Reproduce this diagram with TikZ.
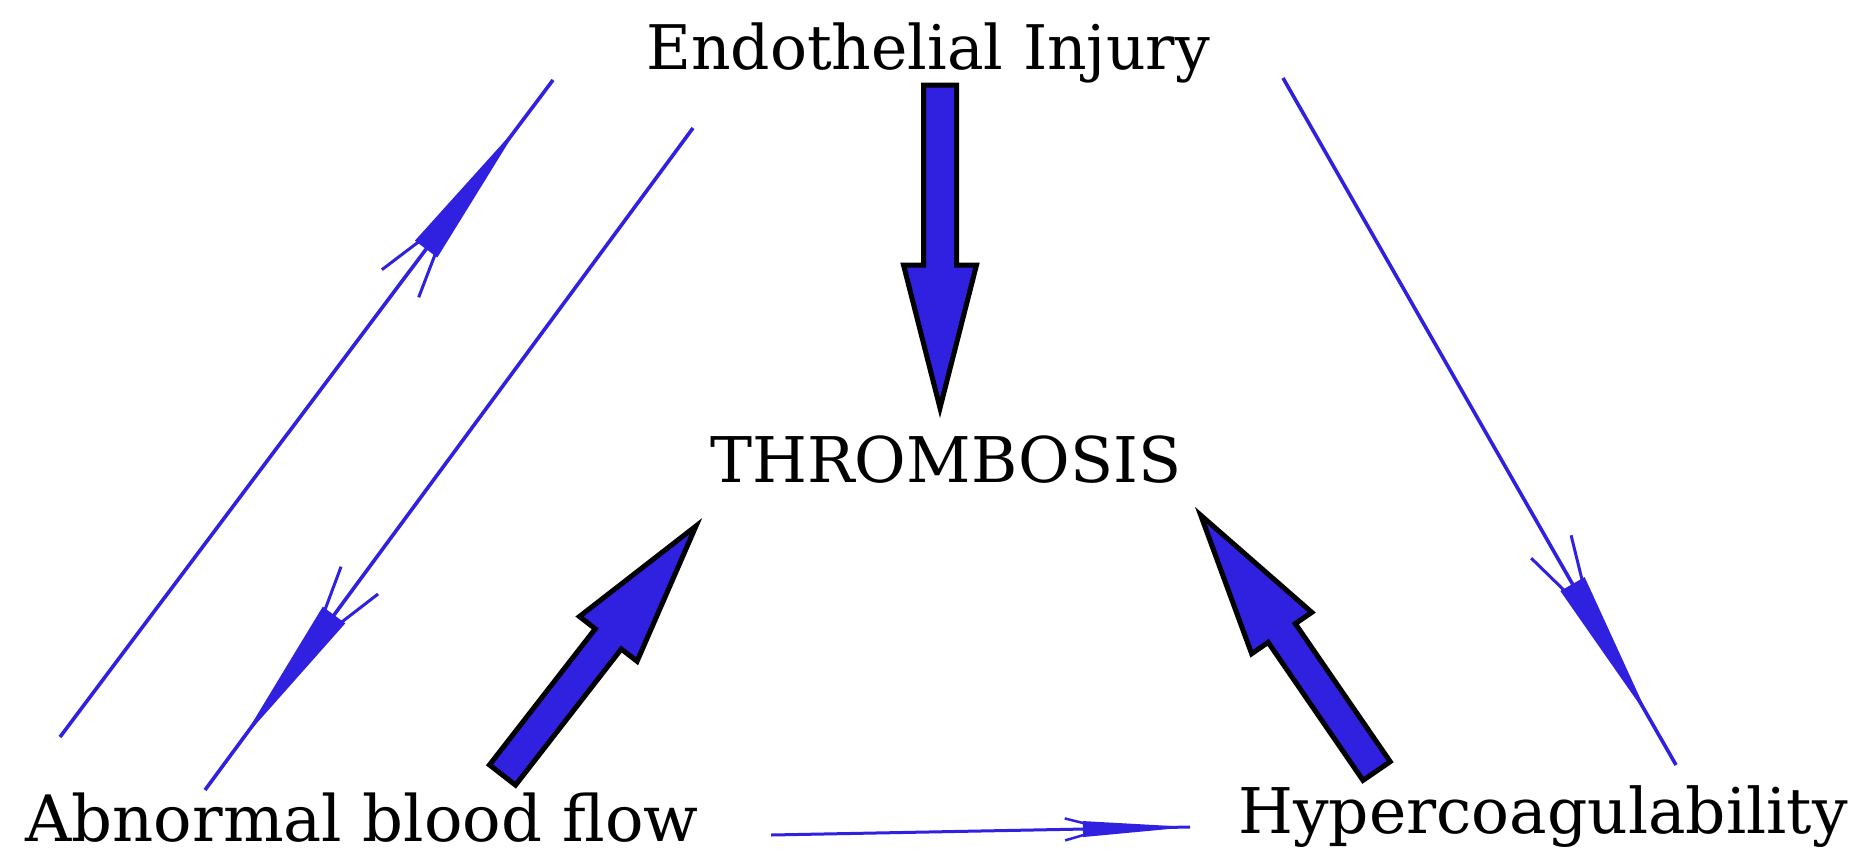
\documentclass[tikz,border=0pt]{standalone}
\usepackage{fontspec}
\setmainfont{DejaVu Serif}
\usetikzlibrary{calc,decorations.markings}
\definecolor{arrowblue}{RGB}{48,32,224}
\newcommand\thinheadbig{%
  \fill[arrowblue] (0pt,14pt) -- (155pt,0pt) -- (0pt,-14pt) -- cycle;
  \draw[arrowblue,line width=3pt] (6pt,9pt) -- (-43pt,23pt) (6pt,-9pt) -- (-43pt,-23pt);}
\newcommand\thinheadsmall{%
  \fill[arrowblue] (0pt,8pt) -- (107pt,0pt) -- (0pt,-8pt) -- cycle;
  \draw[arrowblue,line width=2.5pt] (4pt,5pt) -- (-18pt,11pt) (4pt,-5pt) -- (-18pt,-11pt);}
\newcommand\blockarrow[2]{%
  \coordinate (#1-b) at ($(#2)!143pt!(#1)$);
  \draw[blockstyle] ($(#1)!16.5pt!90:(#2)$) -- ($(#1-b)!16.5pt!-90:(#1)$) -- ($(#1-b)!36.5pt!-90:(#1)$) -- (#2)
    -- ($(#1-b)!36.5pt!90:(#1)$) -- ($(#1-b)!16.5pt!90:(#1)$) -- ($(#1)!16.5pt!-90:(#2)$) -- cycle;}
\begin{document}
\begin{tikzpicture}[x=1pt,y=-1pt,
  thinline/.style={draw=arrowblue,line width=3.6pt},
  headbig/.style={postaction={decorate},decoration={markings,mark=at position #1 with {\thinheadbig}}},
  headsmall/.style={postaction={decorate},decoration={markings,mark=at position #1 with {\thinheadsmall}}},
  termtext/.style={inner sep=0pt,anchor=base,text=black},
  blockstyle/.style={draw=black,line width=5pt,fill=arrowblue,line join=miter}]
\useasboundingbox (0,0) rectangle (1860,857);
\fill[white] (0,0) rectangle (1860,857);

% labels
\node[termtext,font=\fontsize{61.5}{70}\selectfont] (endo) at (928,69) {Endothelial Injury};
\node[termtext,font=\fontsize{63}{70}\selectfont] (thromb) at (946,482) {THROMBOSIS};
\node[termtext,font=\fontsize{64}{70}\selectfont] (abn) at (362,841) {Abnormal blood flow};
\node[termtext,font=\fontsize{63}{70}\selectfont] (hyper) at (1543,833) {Hypercoagulability};

% thin connectors
\coordinate (a0) at (60,737);  \coordinate (a1) at (553,80);
\coordinate (b0) at (693,128); \coordinate (b1) at (205,790);
\coordinate (c0) at (1283,78); \coordinate (c1) at (1676,765);
\coordinate (d0) at (771,835); \coordinate (d1) at (1190,827);
\draw[thinline,headbig=610pt] (a0) -- (a1);
\draw[thinline,headbig=605pt] (b0) -- (b1);
\draw[thinline,headbig=583pt] (c0) -- (c1);
\draw[thinline,line width=3pt,headsmall=312pt] (d0) -- (d1);

% block arrows
\coordinate (t1) at (940,85);       \coordinate (p1) at (940,408);
\coordinate (t2) at (502.5,775);    \coordinate (p2) at (696,526);
\coordinate (t3) at (1376.6,771);   \coordinate (p3) at (1200.7,515.2);
\blockarrow{t1}{p1}
\blockarrow{t2}{p2}
\blockarrow{t3}{p3}
\end{tikzpicture}
\end{document}
